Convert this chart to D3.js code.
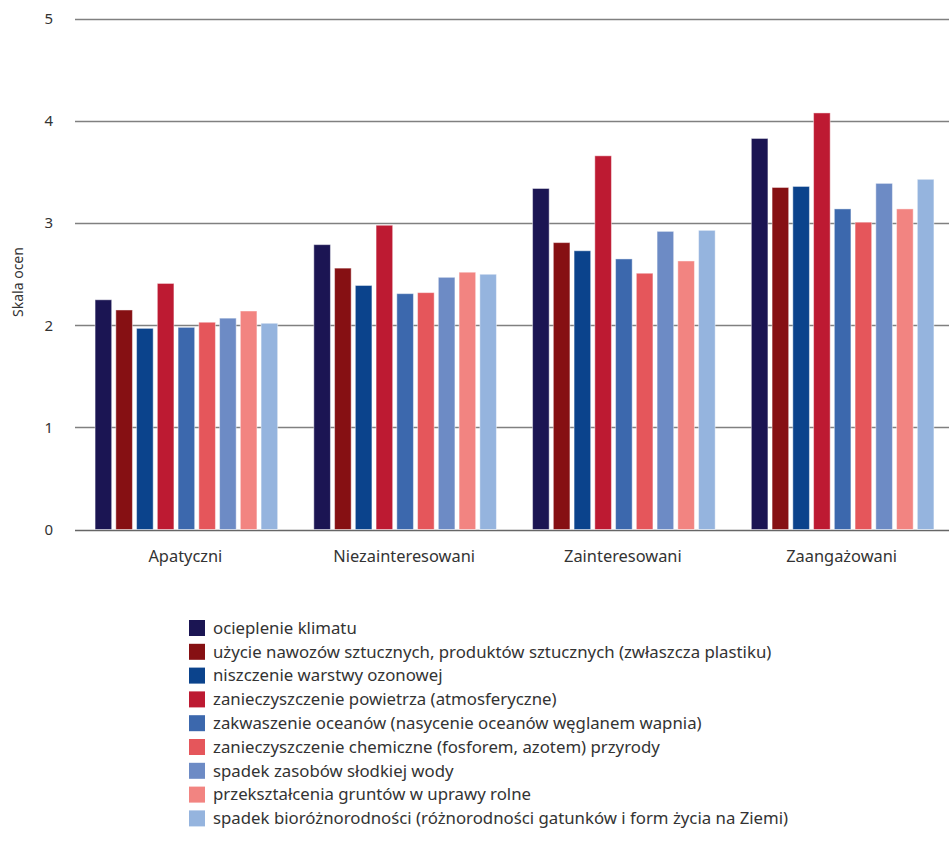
<!DOCTYPE html>
<html>
<head>
<meta charset="utf-8">
<script src="https://cdn.jsdelivr.net/npm/d3@7"></script>
<style>
  body { margin: 0; background: #fff; }
  text { font-family: "Noto Sans", "Open Sans", sans-serif; fill: #333; }
</style>
</head>
<body>
<div id="chart"></div>
<script>
const categories = ['Apatyczni', 'Niezainteresowani', 'Zainteresowani', 'Zaangażowani'];

const seriesNames = [
    'ocieplenie klimatu',
    'użycie nawozów sztucznych, produktów sztucznych (zwłaszcza plastiku)',
    'niszczenie warstwy ozonowej',
    'zanieczyszczenie powietrza (atmosferyczne)',
    'zakwaszenie oceanów (nasycenie oceanów węglanem wapnia)',
    'zanieczyszczenie chemiczne (fosforem, azotem) przyrody',
    'spadek zasobów słodkiej wody',
    'przekształcenia gruntów w uprawy rolne',
    'spadek bioróżnorodności (różnorodności gatunków i form życia na Ziemi)'
];

const seriesColors = ['#1b1553', '#861013', '#0b438c', '#bd1a32', '#3c68ad', '#e5565b', '#6d8bc5', '#f28481', '#95b4de'];

// one row per series, one value per category
const values = [
    [2.25, 2.79, 3.34, 3.83],
    [2.15, 2.56, 2.81, 3.35],
    [1.97, 2.39, 2.73, 3.36],
    [2.41, 2.98, 3.66, 4.08],
    [1.98, 2.31, 2.65, 3.14],
    [2.03, 2.32, 2.51, 3.01],
    [2.07, 2.47, 2.92, 3.39],
    [2.14, 2.52, 2.63, 3.14],
    [2.02, 2.50, 2.93, 3.43]
];

const yTicks = [0, 1, 2, 3, 4, 5];

const width = 949;
const height = 843;

const svg = d3.select('#chart').append('svg').attr('width', width).attr('height', height);

const y = d3.scaleLinear().domain([0, 5]).range([529.5, 19]);

const x0 = d3.scaleBand().domain(categories).range([77, 952]);
const x1 = d3.scaleBand()
    .domain(d3.range(seriesNames.length))
    .range([16, x0.bandwidth() - 16])
    .paddingInner(0.2)
    .paddingOuter(0.1);

// gridlines and y tick labels
const yAxis = svg.append('g');
yAxis.selectAll('line')
    .data(yTicks)
    .enter()
    .append('line')
    .attr('x1', 75)
    .attr('x2', width)
    .attr('y1', (d) => Math.round(y(d)) + 0.5)
    .attr('y2', (d) => Math.round(y(d)) + 0.5)
    .attr('stroke', (d) => (d === 0 ? '#666' : '#808080'))
    .attr('stroke-width', (d) => (d === 0 ? 1.6 : 1.3));

yAxis.selectAll('text')
    .data(yTicks)
    .enter()
    .append('text')
    .attr('x', 53)
    .attr('y', (d) => y(d))
    .attr('dy', '0.35em')
    .attr('text-anchor', 'end')
    .style('font-size', '15px')
    .text((d) => d);

svg.append('text')
    .attr('transform', 'translate(23, 282) rotate(-90)')
    .attr('text-anchor', 'middle')
    .style('font-size', '14px')
    .text('Skala ocen');

// bars
const groups = svg.selectAll('g.group')
    .data(categories)
    .enter()
    .append('g')
    .attr('class', 'group')
    .attr('transform', (c) => `translate(${x0(c)}, 0)`);

groups.selectAll('rect')
    .data((c, ci) => values.map((row, si) => ({ s: si, v: row[ci] })))
    .enter()
    .append('rect')
    .attr('x', (d) => x1(d.s))
    .attr('y', (d) => y(d.v))
    .attr('width', x1.bandwidth())
    .attr('height', (d) => y(0) - y(d.v))
    .attr('fill', (d) => seriesColors[d.s])
    .attr('stroke', 'rgba(255,255,255,0.45)')
    .attr('stroke-width', 1);

// category labels
svg.selectAll('text.cat')
    .data(categories)
    .enter()
    .append('text')
    .attr('class', 'cat')
    .attr('x', (c) => x0(c) + x0.bandwidth() / 2 - 1)
    .attr('y', 556)
    .attr('dy', '0.35em')
    .attr('text-anchor', 'middle')
    .style('font-size', '16.4px')
    .text((c) => c);

// legend
const legend = svg.append('g').attr('transform', 'translate(189, 628)');
const rowH = 23.8;

legend.selectAll('rect')
    .data(seriesNames)
    .enter()
    .append('rect')
    .attr('x', 0)
    .attr('y', (d, i) => i * rowH - 8)
    .attr('width', 16)
    .attr('height', 16)
    .attr('fill', (d, i) => seriesColors[i]);

legend.selectAll('text')
    .data(seriesNames)
    .enter()
    .append('text')
    .attr('x', 24)
    .attr('y', (d, i) => i * rowH)
    .attr('dy', '0.35em')
    .style('font-size', '16.8px')
    .text((d) => d);
</script>
</body>
</html>
